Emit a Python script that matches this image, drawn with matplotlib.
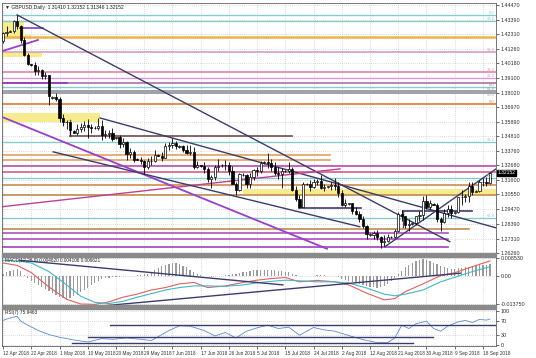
import matplotlib
matplotlib.use("Agg")
import matplotlib.pyplot as plt
import numpy as np

plt.rcParams["font.family"] = ["Liberation Sans", "DejaVu Sans"]

# ---------------- data ----------------
date_labels = ["12 Apr 2018", "22 Apr 2018", "1 May 2018", "10 May 2018", "20 May 2018",
               "29 May 2018", "7 Jun 2018", "17 Jun 2018", "26 Jun 2018", "5 Jul 2018",
               "15 Jul 2018", "24 Jul 2018", "2 Aug 2018", "12 Aug 2018", "21 Aug 2018",
               "30 Aug 2018", "9 Sep 2018", "18 Sep 2018"]
date_label_bar = [0, 8, 16, 24, 32, 40, 48, 56, 64, 72, 80, 88, 96, 104, 112, 120, 128, 136]

opens = [1.4183, 1.4238, 1.4250, 1.4255, 1.4330, 1.4290, 1.4193, 1.4080, 1.4010, 1.4005,
         1.3960, 1.3970, 1.3925, 1.3930, 1.3765, 1.3770, 1.3760, 1.3615, 1.3590, 1.3585,
         1.3520, 1.3510, 1.3535, 1.3550, 1.3565, 1.3550, 1.3540, 1.3545, 1.3560, 1.3495,
         1.3500, 1.3510, 1.3470, 1.3475, 1.3425, 1.3440, 1.3350, 1.3370, 1.3315, 1.3310,
         1.3300, 1.3260, 1.3300, 1.3300, 1.3345, 1.3340, 1.3325, 1.3410, 1.3415, 1.3430,
         1.3405, 1.3410, 1.3380, 1.3360, 1.3370, 1.3260, 1.3270, 1.3265, 1.3245, 1.3170,
         1.3180, 1.3260, 1.3270, 1.3275, 1.3270, 1.3230, 1.3135, 1.3090, 1.3200, 1.3195,
         1.3130, 1.3180, 1.3235, 1.3225, 1.3285, 1.3290, 1.3285, 1.3260, 1.3215, 1.3205,
         1.3230, 1.3225, 1.3240, 1.3090, 1.3020, 1.2960, 1.3130, 1.3135, 1.3110, 1.3150,
         1.3155, 1.3100, 1.3110, 1.3115, 1.3125, 1.3120, 1.3065, 1.2980, 1.2985, 1.2990,
         1.2935, 1.2915, 1.2875, 1.2820, 1.2760, 1.2760, 1.2775, 1.2745, 1.2705, 1.2715,
         1.2745, 1.2745, 1.2790, 1.2910, 1.2895, 1.2830, 1.2835, 1.2845, 1.2895, 1.2905,
         1.3005, 1.2965, 1.2985, 1.2980, 1.2875, 1.2855, 1.2920, 1.2950, 1.2920, 1.2925,
         1.3035, 1.3040, 1.3045, 1.3115, 1.3075, 1.3080, 1.3145, 1.3150, 1.3141]
highs = [1.4245, 1.4293, 1.4260, 1.4337, 1.4377, 1.4300, 1.4209, 1.4093, 1.4015, 1.4030,
         1.4000, 1.3976, 1.3955, 1.3935, 1.3775, 1.3803, 1.3772, 1.3645, 1.3605, 1.3590,
         1.3525, 1.3575, 1.3582, 1.3592, 1.3611, 1.3574, 1.3555, 1.3615, 1.3600, 1.3530,
         1.3530, 1.3540, 1.3480, 1.3490, 1.3470, 1.3445, 1.3395, 1.3380, 1.3320, 1.3330,
         1.3310, 1.3325, 1.3340, 1.3380, 1.3350, 1.3365, 1.3435, 1.3440, 1.3473, 1.3445,
         1.3415, 1.3417, 1.3418, 1.3420, 1.3405, 1.3300, 1.3275, 1.3290, 1.3257, 1.3200,
         1.3275, 1.3315, 1.3280, 1.3309, 1.3290, 1.3265, 1.3150, 1.3215, 1.3210, 1.3205,
         1.3215, 1.3240, 1.3260, 1.3299, 1.3300, 1.3362, 1.3315, 1.3290, 1.3258, 1.3250,
         1.3235, 1.3290, 1.3260, 1.3120, 1.3050, 1.3150, 1.3140, 1.3160, 1.3165, 1.3170,
         1.3200, 1.3135, 1.3120, 1.3145, 1.3175, 1.3150, 1.3085, 1.3025, 1.2995, 1.2995,
         1.2965, 1.2935, 1.2900, 1.2830, 1.2770, 1.2790, 1.2795, 1.2750, 1.2755, 1.2765,
         1.2750, 1.2800, 1.2925, 1.2943, 1.2900, 1.2875, 1.2850, 1.2900, 1.2930, 1.3043,
         1.3050, 1.3015, 1.2995, 1.2995, 1.2890, 1.2945, 1.2978, 1.2980, 1.2930, 1.3040,
         1.3085, 1.3060, 1.3145, 1.3145, 1.3085, 1.3160, 1.3175, 1.3185, 1.3215]
lows = [1.4166, 1.4222, 1.4245, 1.4238, 1.4270, 1.4170, 1.4070, 1.4003, 1.4000, 1.3930,
        1.3935, 1.3900, 1.3903, 1.3710, 1.3760, 1.3741, 1.3590, 1.3555, 1.3535, 1.3490,
        1.3505, 1.3490, 1.3515, 1.3520, 1.3470, 1.3510, 1.3535, 1.3530, 1.3458, 1.3470,
        1.3470, 1.3450, 1.3460, 1.3400, 1.3402, 1.3305, 1.3320, 1.3290, 1.3305, 1.3280,
        1.3205, 1.3245, 1.3275, 1.3290, 1.3335, 1.3300, 1.3320, 1.3385, 1.3400, 1.3390,
        1.3400, 1.3365, 1.3350, 1.3345, 1.3240, 1.3250, 1.3255, 1.3215, 1.3150, 1.3105,
        1.3160, 1.3230, 1.3260, 1.3235, 1.3200, 1.3130, 1.3050, 1.3080, 1.3190, 1.3100,
        1.3105, 1.3160, 1.3190, 1.3210, 1.3280, 1.3250, 1.3230, 1.3200, 1.3170, 1.3100,
        1.3220, 1.3215, 1.3080, 1.3010, 1.2957, 1.2960, 1.3125, 1.3080, 1.3105, 1.3125,
        1.3095, 1.3080, 1.3105, 1.3085, 1.3090, 1.3040, 1.2970, 1.2960, 1.2980, 1.2915,
        1.2905, 1.2850, 1.2810, 1.2725, 1.2750, 1.2725, 1.2720, 1.2662, 1.2680, 1.2705,
        1.2735, 1.2735, 1.2780, 1.2860, 1.2810, 1.2785, 1.2830, 1.2830, 1.2860, 1.2870,
        1.2950, 1.2950, 1.2975, 1.2855, 1.2785, 1.2845, 1.2890, 1.2880, 1.2910, 1.2920,
        1.2975, 1.3000, 1.3000, 1.3050, 1.3070, 1.3070, 1.3115, 1.3117, 1.3135]
closes = [1.4238, 1.4252, 1.4255, 1.4330, 1.4290, 1.4193, 1.4080, 1.4012, 1.4005, 1.3960,
          1.3970, 1.3925, 1.3930, 1.3775, 1.3770, 1.3760, 1.3615, 1.3590, 1.3585, 1.3525,
          1.3510, 1.3535, 1.3550, 1.3565, 1.3550, 1.3540, 1.3545, 1.3560, 1.3495, 1.3500,
          1.3510, 1.3465, 1.3475, 1.3425, 1.3440, 1.3350, 1.3370, 1.3310, 1.3310, 1.3300,
          1.3260, 1.3300, 1.3300, 1.3345, 1.3340, 1.3325, 1.3410, 1.3415, 1.3430, 1.3410,
          1.3410, 1.3380, 1.3360, 1.3370, 1.3260, 1.3270, 1.3265, 1.3245, 1.3170, 1.3180,
          1.3260, 1.3265, 1.3275, 1.3270, 1.3230, 1.3135, 1.3090, 1.3205, 1.3195, 1.3130,
          1.3180, 1.3235, 1.3225, 1.3285, 1.3290, 1.3285, 1.3260, 1.3215, 1.3205, 1.3230,
          1.3225, 1.3240, 1.3090, 1.3020, 1.2960, 1.3135, 1.3135, 1.3110, 1.3150, 1.3155,
          1.3100, 1.3110, 1.3115, 1.3125, 1.3120, 1.3065, 1.2980, 1.2990, 1.2990, 1.2935,
          1.2915, 1.2875, 1.2820, 1.2765, 1.2760, 1.2775, 1.2745, 1.2705, 1.2715, 1.2740,
          1.2745, 1.2790, 1.2910, 1.2895, 1.2830, 1.2835, 1.2845, 1.2895, 1.2905, 1.3005,
          1.2965, 1.2995, 1.2980, 1.2875, 1.2855, 1.2920, 1.2950, 1.2920, 1.2925, 1.3035,
          1.3040, 1.3045, 1.3115, 1.3070, 1.3080, 1.3145, 1.3150, 1.3141, 1.3215]

price_ticks = [1.44470, 1.43390, 1.42310, 1.41260, 1.40180, 1.39100, 1.38020, 1.36970, 1.35890,
               1.34810, 1.33760, 1.32680, 1.31600, 1.30550, 1.29470, 1.28390, 1.27310, 1.26260]
last_price = 1.32152

# full-width horizontal levels: price, colour, width, fib label
level_price = [1.4374, 1.4330, 1.4212, 1.4102, 1.3955, 1.3911, 1.3874, 1.3845, 1.3816, 1.3801,
               1.3720, 1.3441, 1.3265, 1.3221, 1.3177, 1.3126, 1.3052, 1.2884]
level_color = ["#86cccc", "#86cccc", "#f0b24a", "#d8a6c4", "#e58ea8", "#d79ad8", "#b070b0", "#86cccc",
               "#a0a0aa", "#a0a0aa", "#e07a3a", "#86cccc", "#c058b8", "#d46a9a", "#86cccc", "#d08a50",
               "#c08a50", "#86cccc"]
level_width = [1.0, 1.0, 1.8, 1.3, 1.3, 1.0, 1.2, 1.0, 1.4, 1.4, 1.2, 1.0, 1.3, 1.3, 1.0, 1.2, 1.2, 1.0]
level_text = ["0.0", "23.6", "", "61.8", "38.2", "23.6", "0.0", "", "61.8", "50.0", "0.0",
              "38.2", "", "", "50.0", "", "", "61.8"]
level_text_va = ["bottom", "bottom", "bottom", "bottom", "bottom", "bottom", "top", "bottom", "bottom",
                 "top", "bottom", "bottom", "bottom", "bottom", "bottom", "bottom", "bottom", "bottom"]

# partial horizontal segments: start bar, end bar, price, colour
seg_x0 = [19.0, -1.0, -1.0, -1.0, -1.0, -1.0, -1.0, 4.8, -1.0, 84.0, 113.3]
seg_x1 = [82.0, 92.6, 92.6, 132.0, 126.0, 126.0, 126.0, 11.3, 18.0, 101.5, 133.0]
seg_p = [1.3485, 1.3346, 1.3309, 1.2803, 1.2772, 1.2728, 1.2671, 1.4279, 1.3874, 1.2957, 1.2935]
seg_c = ["#6a5050", "#e4a060", "#e4a060", "#c08a50", "#b050c0", "#b050c0", "#a040c0", "#8040c0",
         "#a030c0", "#3c3c6c", "#3c3c6c"]

# vertical bracket segments: bar, price from, price to
vseg_x = [19.0, 113.3]
vseg_p0 = [1.3603, 1.2935]
vseg_p1 = [1.3485, 1.2818]

# yellow zones: start bar, end bar, low price, high price
zone_x0 = [-1.0, -1.0, -1.0, 0.0, 68.0]
zone_x1 = [6.0, 8.0, 11.0, 27.5, 139.7]
zone_lo = [1.4227, 1.4198, 1.4066, 1.3588, 1.3052]
zone_hi = [1.4322, 1.4227, 1.4102, 1.3654, 1.3097]

# trend lines: (bar, price) start and end, colour, width
tl_x0 = [3.97, 27.5, -1.0, 0.0, -1.0, 108.2, 14.2]
tl_p0 = [1.4374, 1.3617, 1.3632, 1.4110, 1.2963, 1.2671, 1.3368]
tl_x1 = [126.6, 139.7, 91.8, 9.9, 95.5, 139.7, 101.1]
tl_p1 = [1.2708, 1.2810, 1.2656, 1.4190, 1.3243, 1.3243, 1.2818]
tl_c = ["#3c3c6c", "#3c3c6c", "#9a40c8", "#9a40c8", "#c04090", "#3c3c6c", "#3c3c6c"]
tl_w = [1.0, 1.0, 1.3, 1.3, 1.0, 1.0, 1.0]

# MACD panel
macd_hist = [0.0010, 0.0020, 0.0022, 0.0030, 0.0032, 0.0022, 0.0005, -0.0010, -0.0025, -0.0035,
             -0.0045, -0.0055, -0.0065, -0.0075, -0.0085, -0.0095, -0.0105, -0.0110, -0.0112, -0.0108,
             -0.0100, -0.0092, -0.0082, -0.0072, -0.0060, -0.0045, -0.0035, -0.0025, -0.0018, -0.0012,
             -0.0010, -0.0008, -0.0006, -0.0005, -0.0004, -0.0003, -0.0002, -0.0001, 0.0002, 0.0004,
             0.0006, 0.0010, 0.0018, 0.0028, 0.0038, 0.0046, 0.0052, 0.0058, 0.0062, 0.0060,
             0.0055, 0.0048, 0.0040, 0.0030, 0.0018, 0.0010, 0.0004, -0.0002, -0.0004, -0.0006,
             -0.0004, -0.0002, 0.0000, 0.0002, 0.0004, 0.0006, 0.0008, 0.0012, 0.0016, 0.0020,
             0.0024, 0.0026, 0.0028, 0.0030, 0.0030, 0.0029, 0.0028, 0.0026, 0.0024, 0.0022,
             0.0020, 0.0016, 0.0010, 0.0004, 0.0000, -0.0002, -0.0002, -0.0001, 0.0000, 0.0002,
             0.0002, 0.0001, 0.0000, -0.0002, -0.0004, -0.0008, -0.0014, -0.0020, -0.0026, -0.0032,
             -0.0036, -0.0040, -0.0045, -0.0050, -0.0054, -0.0056, -0.0058, -0.0056, -0.0050, -0.0040,
             -0.0025, -0.0010, 0.0008, 0.0025, 0.0040, 0.0052, 0.0062, 0.0070, 0.0076, 0.0080,
             0.0078, 0.0072, 0.0064, 0.0055, 0.0046, 0.0040, 0.0036, 0.0034, 0.0034, 0.0036,
             0.0038, 0.0040, 0.0043, 0.0046, 0.0048, 0.0050, 0.0052, 0.0054, 0.0055]
macd_main_bar = [0, 4, 8, 13, 18, 22, 26, 30, 34, 38, 42, 46, 50, 54, 58, 63, 68, 72, 76, 80,
                 84, 89, 94, 98, 103, 108, 111, 114, 119, 124, 128, 133, 138]
macd_main = [0.0062, 0.0050, 0.0015, -0.0055, -0.0115, -0.0138, -0.0140, -0.0128, -0.0105, -0.0090,
             -0.0070, -0.0058, -0.0040, -0.0033, -0.0058, -0.0050, -0.0033, -0.0022, -0.0014, -0.0009,
             -0.0030, -0.0023, -0.0030, -0.0045, -0.0085, -0.0118, -0.0112, -0.0078, -0.0040, 0.0000,
             0.0014, 0.0044, 0.0072]
macd_sig_bar = [0, 4, 8, 13, 18, 22, 26, 30, 34, 38, 42, 46, 50, 54, 58, 63, 68, 72, 76, 80,
                84, 89, 94, 98, 103, 108, 111, 114, 119, 124, 128, 133, 138]
macd_sig = [0.0075, 0.0072, 0.0062, 0.0020, -0.0045, -0.0100, -0.0130, -0.0136, -0.0125, -0.0105,
            -0.0088, -0.0070, -0.0058, -0.0050, -0.0050, -0.0052, -0.0045, -0.0035, -0.0028, -0.0022,
            -0.0025, -0.0030, -0.0030, -0.0036, -0.0060, -0.0090, -0.0098, -0.0090, -0.0070, -0.0030,
            -0.0008, 0.0020, 0.0044]
macd_ticks = [0.008530, 0.0, -0.013750]
macd_tick_labels = ["0.008530", "0.00", "-0.013750"]
macd_tl_x0 = [4.8, 26.6]
macd_tl_v0 = [0.0075, -0.0150]
macd_tl_x1 = [79.3, 129.6]
macd_tl_v1 = [-0.0045, 0.0012]

# RSI panel
rsi_bar = [0, 1, 3, 4, 5, 7, 10, 13, 16, 20, 24, 28, 31, 35, 39, 42, 44, 47, 50, 53,
           57, 60, 63, 66, 69, 72, 75, 78, 81, 84, 88, 91, 94, 98, 102, 106, 109, 111, 113,
           115, 117, 120, 122, 124, 126, 129, 131, 133, 135, 137, 138]
rsi_val = [72, 76, 82, 84, 70, 58, 42, 30, 22, 14, 8, 18, 16, 20, 16, 12, 24, 42, 56, 55,
           42, 26, 36, 20, 40, 50, 58, 48, 52, 28, 51, 44, 40, 27, 15, 6, 6, 20, 58,
           48, 62, 70, 48, 40, 55, 68, 72, 66, 75, 73, 76]
rsi_ticks = [100, 70, 30, 0]
rsi_tl_x0 = [30.3, 24.1, 19.5]
rsi_tl_v0 = [58, 22, 6]
rsi_tl_x1 = [139.7, 121.8, 116.1]
rsi_tl_v1 = [58, 22, 6]

header_main = "\u25bc GBPUSD,Daily  1.31410 1.32152 1.31346 1.32152"
header_macd = "MACD(12,26,9) 0.004620 0.004106 0.006621"
header_rsi = "RSI(7) 75.9463"

# ---------------- figure ----------------
W, H = 536, 358
fig = plt.figure(figsize=(W / 100, H / 100), dpi=100)
fig.patch.set_facecolor("white")


def add_px(left, top, right, bottom):
    return fig.add_axes([left / W, 1 - bottom / H, (right - left) / W, (bottom - top) / H])


ax = add_px(2, 3, 496, 253)
axm = add_px(2, 257, 496, 305)
axr = add_px(2, 309, 496, 346)

XMIN, XMAX = -0.3, 139.7
grid_kw = dict(color="#b8b8b8", linestyle=(0, (1, 2)), linewidth=0.5)
FS = 3.9

for a in (ax, axm, axr):
    a.set_xlim(XMIN, XMAX)
    a.set_facecolor("white")
    for s in a.spines.values():
        s.set_color("#606060")
        s.set_linewidth(0.6)
    a.yaxis.tick_right()
    a.tick_params(axis="y", labelsize=FS, length=2, width=0.5, pad=1.5, colors="#303030")
    a.tick_params(axis="x", length=2, width=0.5, colors="#303030")
    a.set_xticks(date_label_bar)
    a.grid(True, **grid_kw)
    a.set_axisbelow(True)

# main price panel
ax.set_ylim(1.2625, 1.44617)
ax.set_yticks(price_ticks)
ax.set_yticklabels(["%.5f" % p for p in price_ticks])
ax.set_xticklabels([])

for x0, x1, lo, hi in zip(zone_x0, zone_x1, zone_lo, zone_hi):
    ax.fill_between([x0, x1], lo, hi, color="#f6ec8e", lw=0, zorder=1)

for p, col, w, t, va in zip(level_price, level_color, level_width, level_text, level_text_va):
    ax.axhline(p, color=col, lw=w, zorder=2)
    if t:
        ax.text(XMAX - 0.4, p, t, color=col, fontsize=3.0, ha="right", va=va, zorder=6)

for x0, x1, p, col in zip(seg_x0, seg_x1, seg_p, seg_c):
    ax.plot([x0, x1], [p, p], color=col, lw=1.2, zorder=2)
for x, p0, p1 in zip(vseg_x, vseg_p0, vseg_p1):
    ax.plot([x, x], [p0, p1], color="#4a4a5a", lw=1.0, zorder=2)

for x0, p0, x1, p1, col, w in zip(tl_x0, tl_p0, tl_x1, tl_p1, tl_c, tl_w):
    ax.plot([x0, x1], [p0, p1], color=col, lw=w, zorder=3)

idx = np.arange(len(opens))
o = np.array(opens); h = np.array(highs); l = np.array(lows); c = np.array(closes)
ax.vlines(idx, l, h, color="black", lw=0.6, zorder=4)
body_lo = np.minimum(o, c)
body_h = np.maximum(np.abs(c - o), 0.00012)
bull = c >= o
ax.bar(idx[bull], body_h[bull], bottom=body_lo[bull], width=0.62, color="white",
       edgecolor="black", linewidth=0.5, zorder=5)
ax.bar(idx[~bull], body_h[~bull], bottom=body_lo[~bull], width=0.62, color="black",
       edgecolor="black", linewidth=0.5, zorder=5)

ax.text(0.006, 0.992, header_main, transform=ax.transAxes, fontsize=3.6, va="top", ha="left",
        color="#202020")
ax.text(1.004, last_price, "%.5f" % last_price, transform=ax.get_yaxis_transform(), fontsize=3.6,
        color="white", va="center", ha="left",
        bbox=dict(boxstyle="square,pad=0.12", fc="black", ec="black"), zorder=10, clip_on=False)

# MACD panel
axm.set_ylim(-0.0143, 0.0091)
axm.set_yticks(macd_ticks)
axm.set_yticklabels(macd_tick_labels)
axm.set_xticklabels([])
axm.bar(idx, macd_hist, width=0.35, color="#9a9a9a", zorder=2)
axm.plot(macd_main_bar, macd_main, color="#e06060", lw=0.8, zorder=3)
axm.plot(macd_sig_bar, macd_sig, color="#40b8c8", lw=0.8, zorder=3)
for x0, v0, x1, v1 in zip(macd_tl_x0, macd_tl_v0, macd_tl_x1, macd_tl_v1):
    axm.plot([x0, x1], [v0, v1], color="#3c3c6c", lw=1.0, zorder=4)
axm.text(0.006, 0.97, header_macd, transform=axm.transAxes, fontsize=3.4, va="top", ha="left",
         color="#202020")

# RSI panel
axr.set_ylim(-4, 106)
axr.set_yticks(rsi_ticks)
axr.set_yticklabels([str(v) for v in rsi_ticks])
axr.plot(rsi_bar, rsi_val, color="#5a8ad0", lw=0.6, zorder=3)
for x0, v0, x1, v1 in zip(rsi_tl_x0, rsi_tl_v0, rsi_tl_x1, rsi_tl_v1):
    axr.plot([x0, x1], [v0, v1], color="#3c3c6c", lw=1.0, zorder=4)
axr.text(0.006, 0.97, header_rsi, transform=axr.transAxes, fontsize=3.4, va="top", ha="left",
         color="#202020")
axr.set_xticklabels(date_labels, fontsize=3.4)
for t in axr.get_xticklabels():
    t.set_ha("left")
axr.tick_params(axis="x", pad=1.5)

# panel separators
for y0, y1 in ((253, 257), (305, 309)):
    fig.patches.append(plt.Rectangle((2 / W, 1 - y1 / H), 494 / W, (y1 - y0) / H,
                                     transform=fig.transFigure, color="#8a8a8a", zorder=0))

fig.savefig("out.png", dpi=100, facecolor="white")
